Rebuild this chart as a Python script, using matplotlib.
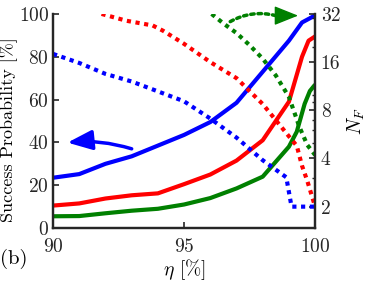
import matplotlib
matplotlib.use("Agg")
import matplotlib.pyplot as plt
from matplotlib.ticker import FixedLocator, FixedFormatter, LogLocator, NullFormatter

plt.rcParams['font.family'] = 'serif'
plt.rcParams['font.serif'] = ['cmr10', 'DejaVu Serif']
plt.rcParams['mathtext.fontset'] = 'cm'
plt.rcParams['axes.unicode_minus'] = False
plt.rcParams['axes.formatter.use_mathtext'] = True

# Success probability (left axis, solid)
eta_blue = [90, 91, 92, 93, 94, 95, 96, 97, 98, 99, 99.5, 100]
succ_blue = [23.5, 25.2, 30.0, 33.5, 38.5, 43.5, 49.5, 58.5, 73.0, 87.5, 96.0, 99.3]
eta_red = [90, 91, 92, 93, 94, 95, 96, 97, 98, 98.5, 99, 99.5, 99.75, 100]
succ_red = [10.5, 11.5, 13.8, 15.3, 16.2, 20.5, 25.0, 31.5, 41.0, 50.0, 59.0, 80.0, 87.5, 89.5]
eta_green = [90, 91, 92, 93, 94, 95, 96, 97, 98, 98.5, 99, 99.3, 99.6, 99.8, 100]
succ_green = [5.5, 5.6, 6.9, 8.1, 9.0, 11.0, 14.0, 18.5, 24.0, 31.0, 38.0, 45.0, 58.0, 64.0, 67.0]

# N_F (right axis, dotted)
eta_nf_blue = [90, 91, 92, 93, 94, 95, 96, 97, 98, 98.9, 99.1, 100]
nf_blue = [18.0, 15.8, 13.5, 12.1, 10.5, 9.1, 7.1, 5.4, 3.9, 3.05, 2.0, 2.0]
eta_nf_red = [91.85, 92.8, 93.8, 94.2, 95, 96, 97, 98, 99, 99.3, 99.5, 99.7, 100]
nf_red = [32.0, 29.0, 27.1, 25.1, 20.8, 16.0, 12.7, 8.75, 5.5, 4.8, 3.6, 2.9, 2.0]
eta_nf_green = [96.05, 96.5, 97, 97.5, 98, 98.5, 99, 99.4, 99.7, 100]
nf_green = [32.0, 27.9, 24.3, 20.4, 16.8, 13.2, 9.7, 6.3, 4.86, 4.2]

x_ticks = [90, 95, 100]
y_ticks = [0, 20, 40, 60, 80, 100]
nf_ticks = [2, 4, 8, 16, 32]

BLUE, RED, GREEN = '#0000ff', '#ff0000', '#008000'
AX = '#262626'
FS = 14

fig = plt.figure(figsize=(3.66, 2.84), dpi=100)
ax = fig.add_axes([0.145, 0.197, 0.716, 0.754])
ax2 = ax.twinx()

lw = 3.0
ax.plot(eta_blue, succ_blue, color=BLUE, lw=lw, solid_capstyle='butt')
ax.plot(eta_red, succ_red, color=RED, lw=lw, solid_capstyle='butt')
ax.plot(eta_green, succ_green, color=GREEN, lw=lw, solid_capstyle='butt')

dot = (0, (1, 1.1))
ax2.plot(eta_nf_blue, nf_blue, color=BLUE, lw=lw, ls=dot)
ax2.plot(eta_nf_red, nf_red, color=RED, lw=lw, ls=dot)
ax2.plot(eta_nf_green, nf_green, color=GREEN, lw=lw, ls=dot)

ax.set_xlim(90, 100)
ax.set_ylim(0, 100)
ax2.set_yscale('log')
ax2.set_ylim(1.47, 32)

ax.set_xticks(x_ticks)
ax.set_yticks(y_ticks)
ax2.yaxis.set_major_locator(FixedLocator(nf_ticks))
ax2.yaxis.set_major_formatter(FixedFormatter([str(t) for t in nf_ticks]))
ax2.yaxis.set_minor_locator(LogLocator(base=10, subs=range(1, 10)))
ax2.yaxis.set_minor_formatter(NullFormatter())

for a in (ax, ax2):
    a.spines['top'].set_visible(False)
    for s in a.spines.values():
        s.set_linewidth(1.6)
        s.set_color(AX)
    a.tick_params(direction='in', length=4, width=1.2, colors=AX, labelsize=FS,
                  labelcolor='#262626')
    a.tick_params(which='minor', direction='in', length=2.5, width=1.0, colors=AX)
ax.tick_params(axis='x', pad=7)
ax.tick_params(axis='y', pad=3)
ax2.tick_params(axis='y', pad=4)

ax.set_ylabel('Success Probability [%]', fontsize=13)
ax.yaxis.set_label_coords(-0.135, 0.46)
ax.set_xlabel(r'$\eta$ [%]', fontsize=FS, labelpad=1)
ax2.set_ylabel(r'$N_F$', fontsize=FS, labelpad=4)

fig.text(0.0, 0.07, '(b)', fontsize=FS + 1)

# blue arrow (solid, curved, pointing left)
ax.annotate('', xy=(90.55, 39.9), xytext=(93.0, 37.0),
            arrowprops=dict(arrowstyle='-|>,head_length=0.75,head_width=0.3',
                            mutation_scale=20, joinstyle='round',
                            color=BLUE, lw=2.5, connectionstyle='arc3,rad=0.1',
                            shrinkA=0, shrinkB=0))
# green arrow: dotted curved shaft + solid head
ax.annotate('', xy=(98.5, 99.2), xytext=(96.76, 96.4),
            arrowprops=dict(arrowstyle='-', color=GREEN, lw=2.5,
                            ls=(0, (1, 1.1)),
                            connectionstyle='arc3,rad=-0.2',
                            shrinkA=0, shrinkB=0))
ax.annotate('', xy=(99.35, 99.2), xytext=(98.45, 99.2),
            arrowprops=dict(arrowstyle='-|>,head_length=0.75,head_width=0.3',
                            mutation_scale=20, joinstyle='round',
                            color=GREEN, lw=1.0,
                            shrinkA=0, shrinkB=0))

fig.savefig('out.png', dpi=100)
